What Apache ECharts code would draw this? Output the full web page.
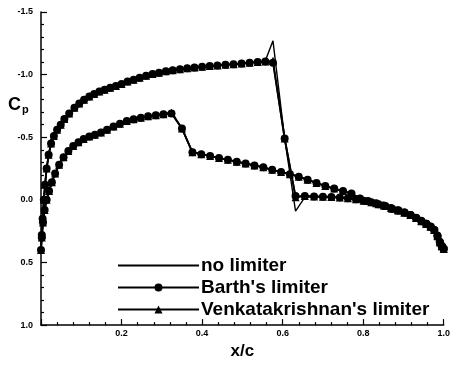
<!DOCTYPE html>
<html>
<head>
<meta charset="utf-8">
<script src="https://cdn.jsdelivr.net/npm/echarts@6/dist/echarts.min.js"></script>
<style>
html,body{margin:0;padding:0;background:#fff;}
#chart{width:453px;height:365px;}
</style>
</head>
<body>
<div id="chart"></div>
<script>
// Upper surface (leading edge -> trailing edge)
var xUpper = [0.000,0.002,0.004,0.007,0.010,0.014,0.019,0.025,0.032,0.040,0.049,0.058,0.070,0.083,0.095,0.107,0.120,0.132,0.145,0.158,0.172,0.186,0.200,0.215,0.230,0.245,0.261,0.277,0.293,0.310,0.327,0.345,0.363,0.381,0.400,0.419,0.438,0.458,0.478,0.498,0.518,0.538,0.557,0.576,0.605,0.632,0.655,0.678,0.700,0.721,0.742,0.762,0.782,0.801,0.820,0.838,0.855,0.872,0.888,0.903,0.918,0.932,0.945,0.957,0.968,0.977,0.985,0.991,0.996,1.000];
var cpUpperBarth = [0.40,0.28,0.15,0.0,-0.12,-0.25,-0.36,-0.45,-0.51,-0.56,-0.60,-0.645,-0.69,-0.735,-0.77,-0.80,-0.825,-0.845,-0.865,-0.88,-0.895,-0.91,-0.925,-0.945,-0.96,-0.975,-0.99,-1.005,-1.015,-1.027,-1.035,-1.042,-1.05,-1.057,-1.063,-1.068,-1.073,-1.078,-1.083,-1.088,-1.095,-1.10,-1.105,-1.095,-0.49,-0.03,-0.03,-0.027,-0.025,-0.022,-0.018,-0.012,-0.005,0.008,0.02,0.035,0.05,0.07,0.085,0.10,0.12,0.145,0.17,0.19,0.215,0.24,0.29,0.34,0.37,0.39];
var cpUpperNone = [0.40,0.28,0.15,0.0,-0.12,-0.25,-0.36,-0.45,-0.51,-0.56,-0.60,-0.645,-0.69,-0.735,-0.77,-0.80,-0.825,-0.845,-0.865,-0.88,-0.895,-0.91,-0.925,-0.945,-0.96,-0.975,-0.99,-1.005,-1.015,-1.027,-1.035,-1.042,-1.05,-1.057,-1.063,-1.068,-1.073,-1.078,-1.083,-1.088,-1.095,-1.10,-1.11,-1.27,-0.49,0.09,-0.02,-0.027,-0.025,-0.022,-0.018,-0.012,-0.005,0.008,0.02,0.035,0.05,0.07,0.085,0.10,0.12,0.145,0.17,0.19,0.215,0.24,0.29,0.34,0.37,0.39];
var cpUpperVenkat = [0.40,0.28,0.15,0.0,-0.12,-0.25,-0.36,-0.45,-0.51,-0.56,-0.60,-0.645,-0.69,-0.735,-0.77,-0.80,-0.825,-0.845,-0.865,-0.88,-0.895,-0.91,-0.925,-0.945,-0.96,-0.975,-0.99,-1.005,-1.015,-1.027,-1.035,-1.042,-1.05,-1.057,-1.063,-1.068,-1.073,-1.078,-1.083,-1.088,-1.095,-1.10,-1.105,-1.11,-0.49,-0.02,-0.03,-0.027,-0.025,-0.022,-0.018,-0.012,-0.005,0.008,0.02,0.035,0.05,0.07,0.085,0.10,0.12,0.145,0.17,0.19,0.215,0.24,0.29,0.34,0.37,0.39];

// Lower surface (leading edge -> trailing edge)
var xLower = [0.000,0.002,0.005,0.009,0.014,0.020,0.027,0.035,0.045,0.056,0.068,0.080,0.093,0.106,0.120,0.134,0.149,0.164,0.180,0.196,0.213,0.230,0.248,0.266,0.285,0.304,0.324,0.350,0.376,0.398,0.420,0.442,0.464,0.486,0.508,0.530,0.552,0.574,0.596,0.618,0.640,0.662,0.684,0.706,0.728,0.750,0.771,0.792,0.812,0.832,0.851,0.869,0.886,0.902,0.917,0.931,0.944,0.956,0.967,0.976,0.984,0.990,0.995,1.000];
var cpLowerBarth = [0.40,0.30,0.18,0.08,0.0,-0.07,-0.14,-0.21,-0.28,-0.34,-0.39,-0.43,-0.46,-0.485,-0.505,-0.52,-0.537,-0.56,-0.585,-0.607,-0.63,-0.643,-0.656,-0.667,-0.676,-0.684,-0.69,-0.57,-0.38,-0.365,-0.35,-0.335,-0.32,-0.305,-0.29,-0.275,-0.26,-0.24,-0.222,-0.205,-0.185,-0.16,-0.135,-0.11,-0.09,-0.07,-0.05,-0.01,0.01,0.028,0.045,0.065,0.082,0.10,0.12,0.143,0.167,0.19,0.213,0.24,0.285,0.335,0.37,0.39];
var cpLowerNone = [0.40,0.30,0.18,0.08,0.0,-0.07,-0.14,-0.21,-0.28,-0.34,-0.39,-0.43,-0.46,-0.485,-0.505,-0.52,-0.537,-0.56,-0.585,-0.607,-0.63,-0.643,-0.656,-0.667,-0.676,-0.684,-0.70,-0.57,-0.38,-0.365,-0.35,-0.335,-0.32,-0.305,-0.29,-0.275,-0.26,-0.24,-0.222,-0.205,-0.185,-0.16,-0.135,-0.11,-0.09,-0.07,-0.05,-0.01,0.01,0.028,0.045,0.065,0.082,0.10,0.12,0.143,0.167,0.19,0.213,0.24,0.285,0.335,0.37,0.39];
var cpLowerVenkat = [0.40,0.30,0.18,0.08,0.0,-0.07,-0.14,-0.21,-0.28,-0.34,-0.39,-0.43,-0.46,-0.485,-0.505,-0.52,-0.537,-0.56,-0.585,-0.607,-0.63,-0.643,-0.656,-0.667,-0.676,-0.684,-0.695,-0.57,-0.38,-0.365,-0.35,-0.335,-0.32,-0.305,-0.29,-0.275,-0.26,-0.24,-0.222,-0.205,-0.185,-0.16,-0.135,-0.11,-0.09,-0.07,-0.05,-0.01,0.01,0.028,0.045,0.065,0.082,0.10,0.12,0.143,0.167,0.19,0.213,0.24,0.285,0.335,0.37,0.39];

var seriesNames = ["no limiter", "Barth's limiter", "Venkatakrishnan's limiter"];
var xTickLabels = ["", "0.2", "0.4", "0.6", "0.8", "1.0"];
var yTickLabels = ["-1.5", "-1.0", "-0.5", "0.0", "0.5", "1.0"];

function buildPath(lowerCp, upperCp) {
  var pts = [];
  for (var i = xLower.length - 1; i >= 0; i--) pts.push([xLower[i], lowerCp[i]]);
  for (var j = 1; j < xUpper.length; j++) pts.push([xUpper[j], upperCp[j]]);
  return pts;
}

var FONT = 'Liberation Sans, Arial, Helvetica, sans-serif';
var chart = echarts.init(document.getElementById('chart'), null, {renderer: 'canvas'});
chart.setOption({
  animation: false,
  backgroundColor: '#fff',
  grid: {left: 41, right: 4, top: 12, bottom: 30, containLabel: false},
  legend: {
    left: 112, top: 251, orient: 'vertical',
    itemWidth: 81, itemHeight: 10, itemGap: 3,
    textStyle: {fontFamily: FONT, fontSize: 19, fontWeight: 'bold', color: '#000', padding: [0,0,0,-3]},
    data: [
      {name: seriesNames[0], itemStyle: {color: 'rgba(0,0,0,0)', borderWidth: 0, opacity: 0}},
      {name: seriesNames[1]},
      {name: seriesNames[2]}
    ]
  },
  graphic: [{
    type: 'text', left: 8, top: 96,
    style: {
      text: '{c|C}{p|p}',
      rich: {
        c: {fontFamily: FONT, fontSize: 18, fontWeight: 'bold', fill: '#000'},
        p: {fontFamily: FONT, fontSize: 11, fontWeight: 'bold', fill: '#000', verticalAlign: 'bottom', padding: [10,0,0,1]}
      }
    }
  }],
  xAxis: {
    type: 'value', min: 0, max: 1, interval: 0.2,
    name: 'x/c', nameLocation: 'middle', nameGap: 16,
    nameTextStyle: {fontFamily: FONT, fontSize: 17, fontWeight: 'bold', color: '#000'},
    axisLine: {onZero: false, lineStyle: {color: '#000', width: 1.5}},
    axisTick: {inside: true, length: 6, lineStyle: {color: '#000', width: 1.2}},
    minorTick: {show: true, splitNumber: 5, length: 3, lineStyle: {color: '#000', width: 1.2}},
    splitLine: {show: false},
    axisLabel: {
      margin: 4, fontFamily: FONT, fontSize: 9, fontWeight: 'bold', color: '#000',
      formatter: function (v) { return xTickLabels[Math.round(v / 0.2)]; }
    }
  },
  yAxis: {
    type: 'value', min: -1.5, max: 1.0, interval: 0.5, inverse: true,
    axisLine: {onZero: false, lineStyle: {color: '#000', width: 1.5}},
    axisTick: {inside: true, length: 6, lineStyle: {color: '#000', width: 1.2}},
    minorTick: {show: true, splitNumber: 5, length: 3, lineStyle: {color: '#000', width: 1.2}},
    splitLine: {show: false},
    axisLabel: {
      margin: 8, fontFamily: FONT, fontSize: 9, fontWeight: 'bold', color: '#000',
      formatter: function (v) { return yTickLabels[Math.round((v + 1.5) / 0.5)]; }
    }
  },
  series: [
    {
      name: seriesNames[0], type: 'line', symbol: 'none',
      lineStyle: {color: '#000', width: 1.4}, itemStyle: {color: '#000'},
      data: buildPath(cpLowerNone, cpUpperNone), z: 2
    },
    {
      name: seriesNames[2], type: 'line', symbol: 'triangle', symbolSize: 8,
      lineStyle: {color: '#000', width: 1.8}, itemStyle: {color: '#000'},
      data: buildPath(cpLowerVenkat, cpUpperVenkat), z: 3
    },
    {
      name: seriesNames[1], type: 'line', symbol: 'circle', symbolSize: 8,
      lineStyle: {color: '#000', width: 1.8}, itemStyle: {color: '#000'},
      data: buildPath(cpLowerBarth, cpUpperBarth), z: 4
    }
  ]
});
</script>
</body>
</html>
